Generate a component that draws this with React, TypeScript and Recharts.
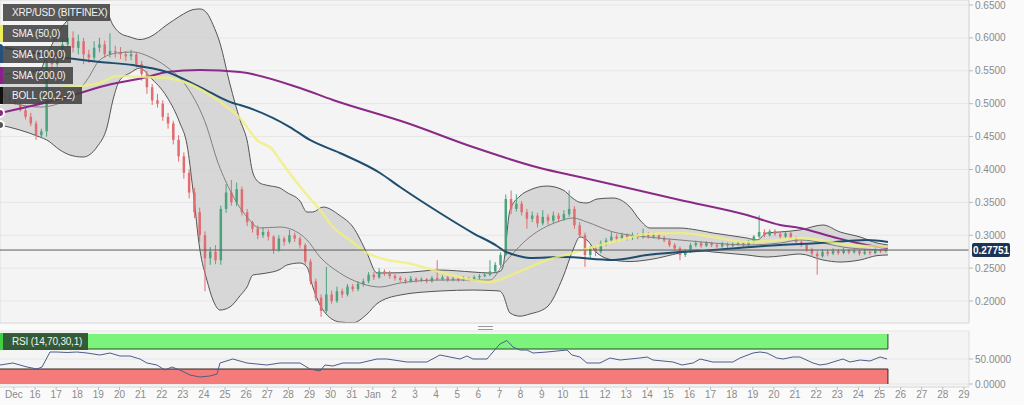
import React from "react";
import {
  ComposedChart,
  Area,
  Line,
  Bar,
  XAxis,
  YAxis,
  CartesianGrid,
  ReferenceLine,
  ReferenceArea,
} from "recharts";

// x axis is "days since Dec 15"
const X_MIN = -0.66;
const X_MAX = 45.24;
const PRICE_MIN = 0.1666;
const PRICE_MAX = 0.6576;
const PRICE_TICKS = [0.2, 0.25, 0.3, 0.35, 0.4, 0.45, 0.5, 0.55, 0.6, 0.65];
const LAST_PRICE = 0.27751;
const RSI_TICKS = [0, 50];
const RSI_END = 41.4;

const DAY_LABELS = [
  "Dec", "16", "17", "18", "19", "20", "21", "22", "23", "24", "25", "26", "27", "28", "29", "30", "31",
  "Jan", "2", "3", "4", "5", "6", "7", "8", "9", "10", "11", "12", "13", "14", "15", "16", "17", "18",
  "19", "20", "21", "22", "23", "24", "25", "26", "27", "28", "29",
];

// 6h candles from Dec 14 ~13:00
const CANDLE_START = -0.45;
const CANDLE_STEP = 0.25;
// [open, high, low, close]
const CANDLES: number[][] = [
  [0.505, 0.515, 0.5, 0.51], [0.51, 0.516, 0.502, 0.505], [0.505, 0.51, 0.498, 0.5], [0.5, 0.504, 0.488, 0.49],
  [0.49, 0.495, 0.476, 0.48], [0.48, 0.486, 0.466, 0.47], [0.47, 0.474, 0.445, 0.452], [0.452, 0.462, 0.448, 0.458],
  [0.458, 0.575, 0.45, 0.565], [0.565, 0.572, 0.552, 0.56], [0.56, 0.582, 0.556, 0.575], [0.575, 0.6, 0.57, 0.59],
  [0.59, 0.645, 0.585, 0.6], [0.6, 0.61, 0.578, 0.585], [0.585, 0.605, 0.575, 0.595], [0.595, 0.6, 0.56, 0.575],
  [0.575, 0.582, 0.562, 0.57], [0.57, 0.595, 0.566, 0.585], [0.585, 0.6, 0.578, 0.59], [0.59, 0.596, 0.57, 0.575],
  [0.575, 0.607, 0.57, 0.58], [0.58, 0.588, 0.57, 0.578], [0.578, 0.586, 0.568, 0.575], [0.575, 0.58, 0.565, 0.572],
  [0.572, 0.582, 0.566, 0.575], [0.575, 0.578, 0.555, 0.56], [0.56, 0.565, 0.535, 0.545], [0.545, 0.55, 0.515, 0.525],
  [0.525, 0.53, 0.498, 0.505], [0.505, 0.515, 0.494, 0.5], [0.5, 0.505, 0.474, 0.48], [0.48, 0.486, 0.462, 0.47],
  [0.47, 0.474, 0.438, 0.445], [0.445, 0.452, 0.412, 0.42], [0.42, 0.426, 0.386, 0.395], [0.395, 0.4, 0.356, 0.365],
  [0.365, 0.372, 0.326, 0.335], [0.335, 0.342, 0.29, 0.3], [0.3, 0.306, 0.215, 0.265], [0.265, 0.282, 0.255, 0.275],
  [0.275, 0.285, 0.256, 0.262], [0.262, 0.345, 0.255, 0.34], [0.34, 0.378, 0.334, 0.365], [0.365, 0.384, 0.345, 0.35],
  [0.35, 0.38, 0.344, 0.37], [0.37, 0.374, 0.33, 0.335], [0.335, 0.34, 0.314, 0.32], [0.32, 0.322, 0.304, 0.31],
  [0.31, 0.315, 0.294, 0.3], [0.3, 0.312, 0.296, 0.305], [0.305, 0.309, 0.292, 0.298], [0.298, 0.3, 0.272, 0.278],
  [0.278, 0.3, 0.275, 0.295], [0.295, 0.298, 0.284, 0.29], [0.29, 0.308, 0.287, 0.3], [0.3, 0.304, 0.29, 0.295],
  [0.295, 0.298, 0.28, 0.285], [0.285, 0.288, 0.255, 0.26], [0.26, 0.264, 0.225, 0.23], [0.23, 0.234, 0.2, 0.205],
  [0.205, 0.21, 0.176, 0.185], [0.185, 0.252, 0.182, 0.21], [0.21, 0.216, 0.196, 0.2], [0.2, 0.222, 0.197, 0.215],
  [0.215, 0.219, 0.205, 0.21], [0.21, 0.226, 0.207, 0.222], [0.222, 0.226, 0.214, 0.218], [0.218, 0.23, 0.215, 0.226],
  [0.226, 0.234, 0.222, 0.23], [0.23, 0.244, 0.227, 0.24], [0.24, 0.244, 0.232, 0.236], [0.236, 0.25, 0.234, 0.245],
  [0.245, 0.248, 0.238, 0.242], [0.242, 0.246, 0.234, 0.238], [0.238, 0.241, 0.231, 0.235], [0.235, 0.238, 0.229, 0.232],
  [0.232, 0.235, 0.226, 0.23], [0.23, 0.238, 0.228, 0.234], [0.234, 0.236, 0.228, 0.231], [0.231, 0.236, 0.229, 0.233],
  [0.233, 0.235, 0.227, 0.23], [0.23, 0.238, 0.228, 0.235], [0.235, 0.262, 0.231, 0.233], [0.233, 0.239, 0.231, 0.236],
  [0.236, 0.238, 0.229, 0.232], [0.232, 0.237, 0.23, 0.234], [0.234, 0.236, 0.229, 0.232], [0.232, 0.238, 0.23, 0.235],
  [0.235, 0.237, 0.23, 0.233], [0.233, 0.239, 0.231, 0.236], [0.236, 0.241, 0.233, 0.238], [0.238, 0.244, 0.236, 0.24],
  [0.24, 0.262, 0.238, 0.245], [0.245, 0.259, 0.243, 0.255], [0.255, 0.274, 0.252, 0.27], [0.27, 0.362, 0.268, 0.355],
  [0.355, 0.368, 0.332, 0.34], [0.34, 0.362, 0.336, 0.348], [0.348, 0.352, 0.33, 0.335], [0.335, 0.34, 0.31, 0.325],
  [0.325, 0.336, 0.32, 0.33], [0.33, 0.334, 0.312, 0.318], [0.318, 0.338, 0.315, 0.328], [0.328, 0.332, 0.316, 0.322],
  [0.322, 0.336, 0.318, 0.33], [0.33, 0.334, 0.32, 0.325], [0.325, 0.338, 0.322, 0.332], [0.332, 0.368, 0.328, 0.34],
  [0.34, 0.344, 0.31, 0.315], [0.315, 0.32, 0.296, 0.3], [0.3, 0.304, 0.252, 0.27], [0.27, 0.284, 0.265, 0.28],
  [0.28, 0.285, 0.268, 0.275], [0.275, 0.292, 0.272, 0.288], [0.288, 0.296, 0.284, 0.292], [0.292, 0.305, 0.289, 0.298],
  [0.298, 0.302, 0.29, 0.295], [0.295, 0.304, 0.292, 0.3], [0.3, 0.303, 0.292, 0.296], [0.296, 0.304, 0.293, 0.3],
  [0.3, 0.303, 0.294, 0.297], [0.297, 0.31, 0.295, 0.302], [0.302, 0.305, 0.295, 0.298], [0.298, 0.304, 0.295, 0.3],
  [0.3, 0.302, 0.293, 0.296], [0.296, 0.299, 0.289, 0.292], [0.292, 0.295, 0.282, 0.285], [0.285, 0.288, 0.277, 0.28],
  [0.28, 0.283, 0.262, 0.27], [0.27, 0.279, 0.267, 0.275], [0.275, 0.288, 0.273, 0.285], [0.285, 0.292, 0.282, 0.288],
  [0.288, 0.291, 0.281, 0.284], [0.284, 0.291, 0.282, 0.288], [0.288, 0.29, 0.282, 0.285], [0.285, 0.288, 0.28, 0.283],
  [0.283, 0.29, 0.281, 0.287], [0.287, 0.289, 0.281, 0.284], [0.284, 0.289, 0.282, 0.286], [0.286, 0.291, 0.284, 0.288],
  [0.288, 0.29, 0.282, 0.285], [0.285, 0.293, 0.283, 0.29], [0.29, 0.3, 0.288, 0.298], [0.298, 0.33, 0.296, 0.305],
  [0.305, 0.309, 0.297, 0.3], [0.3, 0.309, 0.298, 0.306], [0.306, 0.309, 0.299, 0.302], [0.302, 0.305, 0.295, 0.298],
  [0.298, 0.306, 0.296, 0.303], [0.303, 0.305, 0.294, 0.296], [0.296, 0.298, 0.288, 0.29], [0.29, 0.292, 0.282, 0.285],
  [0.285, 0.287, 0.275, 0.278], [0.278, 0.281, 0.268, 0.272], [0.272, 0.276, 0.24, 0.268], [0.268, 0.279, 0.266, 0.275],
  [0.275, 0.278, 0.268, 0.272], [0.272, 0.28, 0.27, 0.276], [0.276, 0.279, 0.27, 0.273], [0.273, 0.281, 0.271, 0.277],
  [0.277, 0.279, 0.271, 0.274], [0.274, 0.28, 0.272, 0.276], [0.276, 0.278, 0.269, 0.272], [0.272, 0.279, 0.27, 0.275],
  [0.275, 0.277, 0.27, 0.273], [0.273, 0.28, 0.271, 0.277], [0.277, 0.279, 0.273, 0.276], [0.276, 0.28, 0.274, 0.2775],
];

// Bollinger (20,2): [day, upper, lower]
const BOLL_BANDS: number[][] = [
  [-0.66, 0.5436, 0.4676], [0.28, 0.5481, 0.46], [1.23, 0.5512, 0.4493], [1.56, 0.574, 0.4448],
  [2.18, 0.612, 0.4296], [2.65, 0.6302, 0.422], [3.27, 0.6394, 0.4189], [3.93, 0.6424, 0.4341],
  [4.41, 0.6378, 0.4645], [4.69, 0.6196, 0.5056], [5.02, 0.6074, 0.536], [5.5, 0.6014, 0.5466],
  [5.97, 0.5975, 0.5542], [6.44, 0.6014, 0.5405], [7.25, 0.62, 0.5101], [7.86, 0.633, 0.4706],
  [8.2, 0.6394, 0.4372], [8.48, 0.643, 0.3688], [8.81, 0.644, 0.2775], [9.14, 0.6378, 0.2319],
  [9.43, 0.62, 0.2015], [9.76, 0.592, 0.1863], [10.23, 0.53, 0.1909], [10.71, 0.4752, 0.208],
  [11.04, 0.4448, 0.2213], [11.32, 0.3946, 0.2395], [11.65, 0.3794, 0.241], [11.98, 0.376, 0.2426],
  [12.6, 0.3718, 0.248], [12.93, 0.365, 0.2547], [13.55, 0.352, 0.2578], [13.88, 0.3353, 0.2517],
  [14.16, 0.3353, 0.2213], [14.64, 0.3429, 0.1863], [15.44, 0.33, 0.1681], [16.06, 0.3125, 0.167],
  [16.72, 0.273, 0.18], [17.2, 0.2426, 0.196], [18.29, 0.243, 0.2091], [20.18, 0.2471, 0.2152],
  [21.74, 0.2441, 0.2167], [22.55, 0.2426, 0.216], [23.02, 0.245, 0.2152], [23.16, 0.2517, 0.21],
  [23.5, 0.3384, 0.1818], [23.97, 0.3596, 0.177], [24.44, 0.3688, 0.1803], [25.25, 0.3748, 0.1909],
  [26.01, 0.3688, 0.2365], [26.48, 0.356, 0.2775], [26.81, 0.35, 0.2974], [27.14, 0.349, 0.2928],
  [27.62, 0.3551, 0.273], [28.38, 0.3566, 0.2624], [29.18, 0.3429, 0.26], [29.65, 0.3232, 0.261],
  [30.13, 0.311, 0.263], [31.55, 0.311, 0.273], [32.35, 0.308, 0.2775], [33.11, 0.3034, 0.2745],
  [34.72, 0.2958, 0.27], [35.2, 0.2928, 0.268], [35.67, 0.3034, 0.2669], [36.29, 0.305, 0.2684],
  [37.23, 0.308, 0.2715], [38.32, 0.3156, 0.2624], [39.13, 0.305, 0.2593], [40.08, 0.2974, 0.2624],
  [40.88, 0.2882, 0.269], [41.4, 0.2852, 0.27],
];

const BOLL_MID: number[][] = [
  [-0.66, 0.5056], [1.23, 0.4949], [2.51, 0.5056], [3.46, 0.536], [4.07, 0.5664], [4.88, 0.577],
  [5.64, 0.5786], [6.44, 0.571], [7.25, 0.5557], [8.2, 0.5253], [9.14, 0.4645], [9.62, 0.4144],
  [10.23, 0.3688], [11.04, 0.3277], [11.65, 0.311], [12.6, 0.3125], [13.22, 0.308], [13.88, 0.2928],
  [14.5, 0.2669], [15.44, 0.2426], [16.39, 0.2274], [17.34, 0.2213], [18.29, 0.2274], [20.18, 0.2319],
  [22.55, 0.2319], [23.16, 0.255], [24.44, 0.2974], [25.72, 0.3201], [26.48, 0.3262], [27.14, 0.3201],
  [28.38, 0.305], [29.99, 0.2974], [31.55, 0.2928], [33.11, 0.2882], [34.72, 0.2852], [36.29, 0.2882],
  [37.23, 0.2928], [39.6, 0.2806], [41.4, 0.2775],
];

const SMA_50: number[][] = [
  [2.18, 0.5238], [4.07, 0.5314], [4.88, 0.5421], [6.3, 0.5405], [7.25, 0.539], [8.2, 0.5314],
  [9.14, 0.5162], [10.09, 0.4949], [10.71, 0.4782], [11.51, 0.4448], [12.27, 0.4296], [12.6, 0.4144],
  [13.88, 0.3612], [14.5, 0.3384], [15.11, 0.3125], [15.92, 0.2928], [16.72, 0.273], [17.67, 0.2624],
  [18.62, 0.2578], [20.18, 0.2441], [21.74, 0.2319], [22.55, 0.2289], [23.35, 0.2365], [24.11, 0.2471],
  [25.25, 0.2624], [26.48, 0.273], [27.43, 0.2821], [28.71, 0.2928], [29.99, 0.3019], [31.55, 0.3034],
  [33.11, 0.2974], [34.72, 0.2898], [36.29, 0.2928], [37.23, 0.2958], [39.6, 0.2852], [41.4, 0.2821],
];

const SMA_100: number[][] = [
  [-0.66, 0.5862], [2.51, 0.5694], [4.07, 0.5633], [5.64, 0.5588], [7.25, 0.5481], [8.81, 0.5253],
  [10.37, 0.501], [10.71, 0.498], [13.07, 0.4645], [14.02, 0.4448], [15.44, 0.425], [17.34, 0.3946],
  [18.29, 0.3733], [20.18, 0.3338], [21.74, 0.3034], [22.88, 0.2837], [23.16, 0.2775], [24.11, 0.2669],
  [24.44, 0.2654], [26.01, 0.2669], [28.38, 0.2624], [29.99, 0.27], [33.11, 0.2775], [36.29, 0.2852],
  [38.18, 0.2882], [40.41, 0.2928], [41.4, 0.2898],
];

const SMA_200: number[][] = [
  [-0.66, 0.4858], [2.51, 0.5101], [4.07, 0.5253], [6.3, 0.5405], [7.25, 0.5481], [8.81, 0.5512],
  [10.71, 0.5481], [13.55, 0.5238], [15.11, 0.5056], [18.62, 0.4706], [21.74, 0.4341], [24.92, 0.4022],
  [26.81, 0.3885], [31.55, 0.3536], [34.72, 0.3308], [36.29, 0.3156], [37.23, 0.311], [38.8, 0.2974],
  [40.41, 0.2852], [41.4, 0.2806],
];

const RSI: number[][] = [
  [-0.66, 38], [-0.05, 42], [0.62, 34], [1.09, 30], [1.33, 34], [1.71, 64], [2.04, 64], [2.51, 63],
  [2.98, 64], [3.46, 62], [4.07, 58], [4.55, 62], [5.02, 56], [5.5, 56], [5.97, 50], [6.3, 42],
  [6.77, 38], [7.15, 28], [7.48, 34], [7.86, 28], [8.34, 18], [8.81, 14], [9.28, 16], [9.62, 20],
  [9.76, 42], [10.37, 50], [11.04, 42], [11.98, 38], [12.6, 42], [13.55, 42], [14.02, 30], [14.5, 26],
  [14.73, 38], [15.11, 36], [15.58, 42], [16.39, 42], [17.2, 50], [17.67, 50], [18.62, 44], [19.56, 44],
  [20.18, 58], [20.65, 54], [21.13, 50], [21.46, 56], [21.74, 50], [22.41, 50], [22.69, 64], [23.02, 80],
  [23.35, 87], [23.64, 74], [23.97, 68], [24.3, 68], [24.59, 62], [25.25, 64], [26.2, 68], [26.43, 58],
  [26.81, 54], [27.14, 42], [27.76, 42], [28.23, 52], [28.71, 48], [29.65, 52], [29.99, 54], [30.27, 48],
  [31.22, 44], [31.64, 38], [32.17, 42], [32.5, 50], [33.11, 44], [34.06, 44], [34.39, 52], [35.01, 62],
  [35.34, 64], [35.67, 62], [36.14, 52], [36.43, 50], [36.9, 54], [37.23, 54], [37.85, 42], [38.18, 38],
  [38.51, 40], [38.8, 44], [39.27, 50], [39.6, 44], [40.08, 48], [40.55, 46], [41.03, 54], [41.36, 50],
];

const LEGEND = [
  { label: "XRP/USD (BITFINEX)", stripe: "", top: 4, width: 107 },
  { label: "SMA (50,0)", stripe: "#eded5c", top: 25, width: 65 },
  { label: "SMA (100,0)", stripe: "#24507a", top: 46, width: 68 },
  { label: "SMA (200,0)", stripe: "#8c1f8c", top: 67, width: 70 },
  { label: "BOLL (20,2,-2)", stripe: "#111111", top: 87, width: 79 },
];

const FONT = '"Liberation Sans", Arial, sans-serif';

const candleData = CANDLES.map(([o, h, l, c], i) => ({
  t: CANDLE_START + i * CANDLE_STEP,
  hl: [l, h],
  ohlc: [o, h, l, c],
}));
const bandData = BOLL_BANDS.map(([t, up, lo]) => ({ t, band: [lo, up] }));
const toPoints = (rows: number[][]) => rows.map(([t, v]) => ({ t, v }));
const dayTicks = DAY_LABELS.map((_, i) => i);

const Candle = (props: any) => {
  const { x, y, width, height, payload } = props;
  if (x == null || y == null || !payload) return null;
  const [o, h, l, c] = payload.ohlc;
  const top = Math.min(y, y + height);
  const span = Math.abs(height);
  const toY = (v: number) => (h === l ? top : top + ((h - v) / (h - l)) * span);
  const cx = x + width / 2;
  const color = c >= o ? "#4aa37c" : "#e06d70";
  const bTop = toY(Math.max(o, c));
  const bBot = toY(Math.min(o, c));
  return (
    <g>
      <line x1={cx} x2={cx} y1={top} y2={top + span} stroke={color} strokeWidth={1} />
      <rect x={cx - 1.25} y={bTop} width={2.5} height={Math.max(1, bBot - bTop)} fill={color} />
    </g>
  );
};

const PriceTag = (props: any) => {
  const vb = props.viewBox;
  if (!vb) return null;
  const x = vb.x + vb.width + 3;
  return (
    <g>
      <rect x={x} y={vb.y - 7} width={38} height={14} rx={2} fill="#1d3352" />
      <text x={x + 19} y={vb.y + 3.5} textAnchor="middle" fontSize={10} fontWeight="bold" fill="#ffffff" fontFamily={FONT}>
        {LAST_PRICE.toFixed(5)}
      </text>
    </g>
  );
};

const axisTick = { fontSize: 10, fill: "#8a8a8a", fontFamily: FONT };

const boxText: React.CSSProperties = {
  color: "#f2f2f2",
  fontSize: 10,
  letterSpacing: -0.2,
  lineHeight: "17px",
  paddingLeft: 9,
  boxSizing: "border-box",
  whiteSpace: "nowrap",
  overflow: "hidden",
};

export default function App() {
  return (
    <div style={{ position: "relative", width: 1024, height: 405, background: "#fafafa", fontFamily: FONT }}>
      <style>{"body{margin:0;background:#fafafa}"}</style>

      <ComposedChart width={1024} height={330} data={candleData} margin={{ top: 0, right: 0, bottom: 7, left: 0 }}>
        <CartesianGrid vertical={false} stroke="#e6e6e6" fill="#f4f4f4" />
        <XAxis type="number" dataKey="t" domain={[X_MIN, X_MAX]} allowDataOverflow hide />
        <YAxis
          orientation="right"
          width={55}
          domain={[PRICE_MIN, PRICE_MAX]}
          allowDataOverflow
          ticks={PRICE_TICKS}
          interval={0}
          tickFormatter={(v: number) => v.toFixed(4)}
          tick={axisTick}
          tickSize={4}
          tickMargin={2}
          tickLine={{ stroke: "#bbbbbb" }}
          axisLine={{ stroke: "#dddddd" }}
        />
        <Area
          data={bandData}
          dataKey="band"
          type="monotone"
          stroke="#555555"
          strokeWidth={1}
          fill="#cdcdcd"
          fillOpacity={0.75}
          isAnimationActive={false}
        />
        <Line data={toPoints(BOLL_MID)} dataKey="v" type="monotone" stroke="#808080" strokeWidth={1} dot={false} isAnimationActive={false} />
        <Bar dataKey="hl" barSize={3} shape={Candle} isAnimationActive={false} />
        <Line data={toPoints(SMA_200)} dataKey="v" type="monotone" stroke="#8a2a86" strokeWidth={2} dot={false} isAnimationActive={false} />
        <Line data={toPoints(SMA_100)} dataKey="v" type="monotone" stroke="#1f4d6e" strokeWidth={2} dot={false} isAnimationActive={false} />
        <Line data={toPoints(SMA_50)} dataKey="v" type="monotone" stroke="#f0f07c" strokeOpacity={0.8} strokeWidth={2.5} dot={false} isAnimationActive={false} />
        <ReferenceLine y={LAST_PRICE} stroke="#5c5c5c" strokeWidth={1} label={PriceTag} />
        <ReferenceArea x1={X_MIN} x2={X_MAX} y1={PRICE_MIN} y2={PRICE_MAX} fill="none" stroke="#dddddd" />
      </ComposedChart>

      <ComposedChart width={1024} height={75} data={toPoints(RSI)} margin={{ top: 1, right: 0, bottom: 0, left: 0 }}>
        <CartesianGrid vertical={false} stroke="#e6e6e6" fill="#f4f4f4" />
        <XAxis
          type="number"
          dataKey="t"
          domain={[X_MIN, X_MAX]}
          allowDataOverflow
          ticks={dayTicks}
          interval={0}
          tickFormatter={(v: number) => DAY_LABELS[v] ?? ""}
          height={18}
          tick={axisTick}
          tickSize={3}
          tickMargin={1}
          tickLine={{ stroke: "#bbbbbb" }}
          axisLine={{ stroke: "#dddddd" }}
        />
        <YAxis
          orientation="right"
          width={55}
          domain={[-6, 106]}
          allowDataOverflow
          ticks={RSI_TICKS}
          interval={0}
          tickFormatter={(v: number) => v.toFixed(4)}
          tick={axisTick}
          tickSize={4}
          tickMargin={2}
          tickLine={{ stroke: "#bbbbbb" }}
          axisLine={{ stroke: "#dddddd" }}
        />
        <ReferenceArea x1={X_MIN} x2={RSI_END} y1={70} y2={100} fill="#7cf47c" fillOpacity={1} />
        <ReferenceArea x1={X_MIN} x2={RSI_END} y1={0} y2={30} fill="#f57b7b" fillOpacity={1} />
        <ReferenceLine segment={[{ x: X_MIN, y: 70 }, { x: RSI_END, y: 70 }]} stroke="#2b4a2b" strokeWidth={1} />
        <ReferenceLine segment={[{ x: X_MIN, y: 30 }, { x: RSI_END, y: 30 }]} stroke="#3a2222" strokeWidth={1} />
        <ReferenceLine segment={[{ x: RSI_END, y: 0 }, { x: RSI_END, y: 30 }]} stroke="#3a2222" strokeWidth={1} />
        <ReferenceLine segment={[{ x: RSI_END, y: 70 }, { x: RSI_END, y: 100 }]} stroke="#2b4a2b" strokeWidth={1} />
        <Line dataKey="v" type="linear" stroke="#4b5d8c" strokeWidth={1} dot={false} isAnimationActive={false} />
      </ComposedChart>

      {/* indicator legends */}
      {LEGEND.map((item) => (
        <div key={item.label} style={{ position: "absolute", left: 0, top: item.top, height: 17, display: "flex" }}>
          <div style={{ width: 3, background: item.stripe || "transparent" }} />
          <div style={{ ...boxText, width: item.width, background: "rgba(66,66,66,0.88)" }}>{item.label}</div>
        </div>
      ))}

      <div style={{ position: "absolute", left: 0, top: 333, height: 17, display: "flex" }}>
        <div style={{ width: 3, background: "#3fd13f" }} />
        <div style={{ ...boxText, width: 85, background: "rgba(44,78,48,0.92)" }}>RSI (14,70,30,1)</div>
      </div>

      {/* pane splitter grip */}
      <div
        style={{
          position: "absolute",
          left: 478,
          top: 326,
          width: 15,
          height: 2,
          borderTop: "1px solid #999",
          borderBottom: "1px solid #999",
        }}
      />
    </div>
  );
}
